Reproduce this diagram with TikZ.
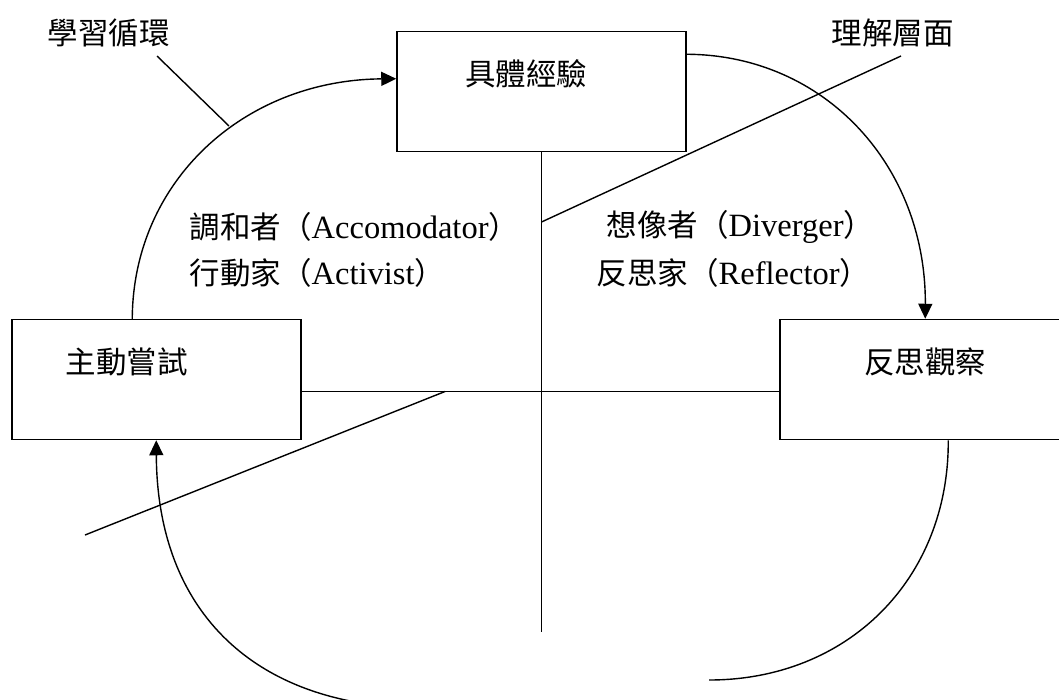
\documentclass[tikz,border=0pt]{standalone}
\usepackage{fontspec}
\setmainfont{Liberation Serif}
\newfontfamily\cjk{Noto Sans CJK TC}
\newcommand\cjt[1]{{\cjk\fontsize{30.5}{36}\selectfont #1}}
\usetikzlibrary{arrows.meta,calc}
\begin{document}
\begin{tikzpicture}[x=1pt,y=-1pt,line width=1.4pt,
  box/.style={draw,line width=1.5pt,minimum width=289pt,minimum height=120pt,inner sep=0pt},
  txt/.style={inner sep=0pt,text height=0.88em,text depth=0.12em,font=\cjk\fontsize{30.5}{36}\selectfont},
  lbl/.style={inner sep=0pt,text height=26.8pt,text depth=3.7pt,anchor=west,font=\fontsize{32.5}{36}\selectfont},
  arr/.style={-{Triangle[length=15pt,width=14pt]}}]
\useasboundingbox (0,0) rectangle (1059,699);
\clip (0,0) rectangle (1059,699);
% boxes
\node[box] (A) at (541.5,91.5) {};
\node[box] (B) at (924.5,379.5) {};
\node[box] (C) at (156.5,379.5) {};
\node[txt] (tA) at (526,82) {具體經驗};
\node[txt] (tB) at (925,370) {反思觀察};
\node[txt] (tC) at (126.5,370) {主動嘗試};
% free ends
\coordinate (vb) at (541.5,632);
\coordinate (rb) at (709,680);
\coordinate (lb) at (425,708);
\coordinate (u1) at (901,56);
\coordinate (u2) at (541.5,222);
\coordinate (d1) at (445,391.5);
\coordinate (d2) at (85,535);
\coordinate (p1) at (157,56);
\coordinate (p2) at (229,126);
% axes
\draw (A.south) -- (vb);
\draw ($(C.east)+(0,12)$) -- ($(B.west)+(0,12)$);
\draw (u1) -- (u2);
\draw (d1) -- (d2);
\draw (p1) -- (p2);
% cycle arcs
\draw[arr] ($(C.north west)+(121,0)$) .. controls (133,181) and (244,80) .. ($(A.north west)+(0,48)$);
\draw[arr] ($(A.north east)+(0,23.5)$) .. controls (825,55) and (926,166) .. ($(B.north west)+(146,0)$);
\draw ($(B.south west)+(169,0)$) .. controls (949,579) and (848,680) .. (rb);
\draw[arr] (lb) .. controls (255,708) and (157,612) .. ($(C.south west)+(145,0)$);
% labels
\node[lbl] (L1) at (47,33) {\cjt{學習循環}};
\node[lbl] (L2) at (831,33) {\cjt{理解層面}};
\node[lbl] (L3) at (189,227) {\cjt{調和者（}Accomodator\cjt{）}};
\node[lbl] (L4) at (189,273) {\cjt{行動家（}Activist\cjt{）}};
\node[lbl] (L5) at (606,225) {\cjt{想像者（}Diverger\cjt{）}};
\node[lbl] (L6) at (596,273) {\cjt{反思家（}Reflector\cjt{）}};
\end{tikzpicture}
\end{document}
